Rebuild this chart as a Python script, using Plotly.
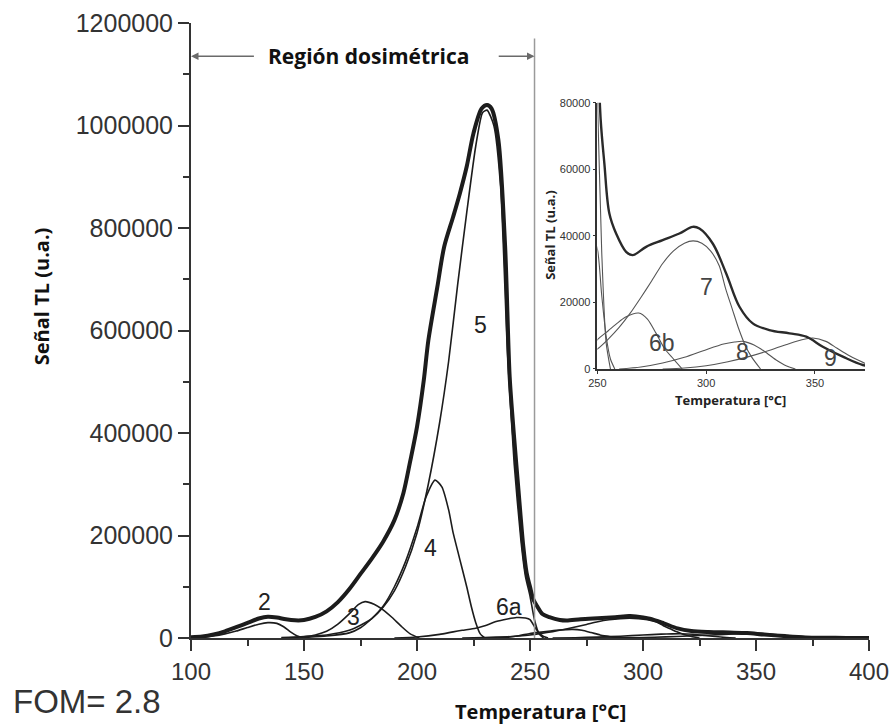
import plotly.graph_objects as go

# Glow curve (measured TL signal)
temp_glow = [100, 105, 110, 115, 120, 125, 130, 134, 138, 142,
             146, 150, 155, 160, 165, 170, 175, 180, 185, 190,
             194, 197, 200, 203, 205, 209, 212, 216, 219, 222,
             225, 228.6, 231, 233, 236, 239, 241, 243, 245, 247,
             248.5, 250, 251.5, 253.2, 255.5, 258.6, 263.2, 266.2, 272.4, 280,
             287.7, 293.8, 296.9, 303, 309.2, 315.3, 321.4, 329, 338.3, 346,
             353.6, 362.8, 372, 380, 390, 400]
signal_glow = [1500, 3000, 7000, 13000, 21000, 29500, 38000, 41600, 40000, 36500,
               34500, 35000, 41000, 52000, 70000, 95000, 125000, 155000, 188000, 230000,
               283000, 345000, 412000, 503000, 580000, 685000, 763000, 822000, 868000, 920000,
               985000, 1033000, 1040000, 1033000, 972000, 763000, 510000, 390000, 283000, 180000,
               127000, 100000, 75000, 61800, 46700, 40700, 35200, 34200, 36700, 38700,
               40700, 42700, 42200, 37700, 28700, 18700, 13700, 11700, 10700, 9700,
               6700, 3700, 1200, 500, 200, 0]

# Deconvolved components
temp_p2 = [100, 105, 110, 115, 120, 125, 130, 134, 138, 141, 144, 147, 150]
signal_p2 = [500, 1500, 4000, 8000, 13500, 20500, 27000, 30000, 28500, 22000, 12000, 4000, 0]

temp_p3 = [140, 145, 150, 155, 160, 165, 170, 174, 177, 181, 185, 189, 193, 197, 201]
signal_p3 = [0, 1000, 2500, 6000, 13000, 27000, 47000, 65000, 71000, 66000, 55000, 40000, 23000, 8000, 0]

temp_p4 = [150, 160, 170, 175, 180, 185, 190, 195, 200, 204, 208, 211, 214, 216, 218, 220, 222, 224, 226, 228, 230]
signal_p4 = [1000, 4000, 10000, 20000, 38000, 62000, 100000, 150000, 215000, 275000, 308000, 295000,
             250000, 205000, 170000, 135000, 100000, 62000, 30000, 8000, 0]

temp_p5 = [140, 150, 160, 170, 175, 180, 185, 190, 195, 200, 205, 210, 214, 218, 222, 226, 229, 231,
           234, 237, 240, 243, 246, 248, 250, 252, 254, 256]
signal_p5 = [1000, 3000, 6000, 15000, 25000, 38000, 60000, 92000, 140000, 205000, 300000, 420000, 540000,
             690000, 830000, 960000, 1025000, 1030000, 1000000, 880000, 560000, 340000, 190000, 120000,
             82000, 35000, 8000, 0]

temp_p6a = [190, 200, 210, 216, 220, 226, 230, 235, 240, 244, 248, 250, 252, 254, 256, 258]
signal_p6a = [0, 2000, 7000, 12000, 15000, 19000, 24000, 32000, 37000, 40000, 39000, 36000, 22000, 10000, 3000, 0]

temp_p6b = [235, 240, 245, 250, 255, 259, 263, 269, 273, 277, 281, 285, 289]
signal_p6b = [0, 1500, 4500, 8800, 11500, 13700, 15600, 16800, 15000, 10700, 6000, 3000, 0]

temp_p7 = [220, 230, 240, 245, 250, 255, 260, 265, 270, 275, 280, 285, 290, 294, 298, 302, 306, 309,
           312, 315, 318, 321, 325]
signal_p7 = [0, 1000, 2500, 4000, 6000, 9000, 12500, 16700, 21500, 26500, 31700, 35500, 37800, 38500,
             37800, 35500, 31000, 24000, 18000, 12000, 7000, 3500, 0]

temp_p8 = [260, 270, 280, 290, 300, 308, 313, 317, 322, 327, 332, 337, 341]
signal_p8 = [0, 600, 1800, 3500, 5800, 7500, 8100, 8300, 7200, 5200, 2800, 900, 0]

temp_p9 = [280, 290, 300, 310, 320, 330, 338, 344, 349, 355, 360, 365, 370, 375, 380, 388]
signal_p9 = [0, 300, 1000, 2200, 3800, 5800, 7600, 8800, 9300, 8300, 6300, 4300, 2600, 1200, 400, 0]

# Peak labels: (text, temperature, signal)
main_labels = [("2", 132.3, 70000), ("3", 171.7, 41000), ("4", 205.8, 175000),
               ("5", 228.3, 610000), ("6a", 240.7, 60500)]
inset_labels = [("6b", 279.6, 7700), ("7", 300, 24700), ("8", 316.9, 5200), ("9", 357, 3200)]

main_ticks_x = [100, 150, 200, 250, 300, 350, 400]
main_ticks_y = [0, 200000, 400000, 600000, 800000, 1000000, 1200000]
inset_ticks_x = [250, 300, 350]
inset_ticks_y = [0, 20000, 40000, 60000, 80000]

dosimetric_limit = 252
region_arrow_level = 1135000

components = [(temp_p2, signal_p2), (temp_p3, signal_p3), (temp_p4, signal_p4),
              (temp_p5, signal_p5), (temp_p6a, signal_p6a), (temp_p6b, signal_p6b),
              (temp_p7, signal_p7), (temp_p8, signal_p8), (temp_p9, signal_p9)]
inset_components = components[3:]

ARIAL = "Liberation Sans, Arial, sans-serif"
BOLD = "Open Sans, sans-serif"
INK = "#1c1c1c"

fig = go.Figure()

# main panel
for t, s in components:
    fig.add_trace(go.Scatter(x=t, y=s, mode="lines", xaxis="x", yaxis="y",
                             line=dict(color=INK, width=1.6, shape="spline", smoothing=0.6),
                             hoverinfo="skip", showlegend=False))
fig.add_trace(go.Scatter(x=temp_glow, y=signal_glow, mode="lines", xaxis="x", yaxis="y",
                         line=dict(color=INK, width=4, shape="spline", smoothing=0.8),
                         hoverinfo="skip", showlegend=False))

# dosimetric region boundary
fig.add_trace(go.Scatter(x=[dosimetric_limit, dosimetric_limit], y=[0, 1170000], mode="lines",
                         xaxis="x", yaxis="y", line=dict(color="#9a9a9a", width=1.5),
                         hoverinfo="skip", showlegend=False))

# inset panel
for t, s in inset_components:
    fig.add_trace(go.Scatter(x=t, y=s, mode="lines", xaxis="x2", yaxis="y2",
                             line=dict(color="#555555", width=1.1, shape="spline", smoothing=0.7),
                             hoverinfo="skip", showlegend=False))
fig.add_trace(go.Scatter(x=temp_glow, y=signal_glow, mode="lines", xaxis="x2", yaxis="y2",
                         line=dict(color="#2a2a2a", width=2.4, shape="spline", smoothing=1.0),
                         hoverinfo="skip", showlegend=False))

annotations = []
for txt, t, s in main_labels:
    annotations.append(dict(x=t, y=s, xref="x", yref="y", text=txt, showarrow=False,
                            font=dict(family=ARIAL, size=23, color="#222")))
for txt, t, s in inset_labels:
    annotations.append(dict(x=t, y=s, xref="x2", yref="y2", text=txt, showarrow=False,
                            font=dict(family=ARIAL, size=23, color="#444")))

# region arrows
annotations.append(dict(x=100, y=region_arrow_level, ax=128.5, ay=region_arrow_level,
                        xref="x", yref="y", axref="x", ayref="y", text="", showarrow=True,
                        arrowhead=2, arrowsize=1, arrowwidth=1.5, arrowcolor="#6a6a6a"))
annotations.append(dict(x=dosimetric_limit, y=region_arrow_level, ax=235.5, ay=region_arrow_level,
                        xref="x", yref="y", axref="x", ayref="y", text="", showarrow=True,
                        arrowhead=2, arrowsize=1, arrowwidth=1.5, arrowcolor="#6a6a6a"))
annotations.append(dict(x=178.8, y=region_arrow_level, xref="x", yref="y",
                        text="<b>Región dosimétrica</b>", showarrow=False,
                        font=dict(family=BOLD, size=21, color="#111")))

# axis titles and FOM
annotations.append(dict(x=0.515, y=-0.119, xref="paper", yref="paper", text="<b>Temperatura [°C]</b>",
                        showarrow=False, xanchor="center", yanchor="middle",
                        font=dict(family=BOLD, size=20, color="#111")))
annotations.append(dict(x=-0.221, y=0.556, xref="paper", yref="paper", text="<b>Señal TL (u.a.)</b>",
                        showarrow=False, textangle=-90, xanchor="center", yanchor="middle",
                        font=dict(family=BOLD, size=20, color="#111")))
annotations.append(dict(x=-0.265, y=-0.104, xref="paper", yref="paper", text="FOM= 2.8",
                        showarrow=False, xanchor="left", yanchor="middle",
                        font=dict(family=ARIAL, size=33, color="#333")))
annotations.append(dict(x=0.7955, y=0.387, xref="paper", yref="paper", text="<b>Temperatura [°C]</b>",
                        showarrow=False, xanchor="center", yanchor="middle",
                        font=dict(family=BOLD, size=13, color="#222")))
annotations.append(dict(x=0.5295, y=0.654, xref="paper", yref="paper", text="<b>Señal TL (u.a.)</b>",
                        showarrow=False, textangle=-90, xanchor="center", yanchor="middle",
                        font=dict(family=BOLD, size=13, color="#222")))

axis_common = dict(showgrid=False, zeroline=False, showline=True, linecolor="#333",
                   ticks="outside", tickcolor="#333", automargin=False)

fig.update_layout(
    width=892, height=728,
    margin=dict(l=191, r=23, t=23, b=90, autoexpand=False),
    paper_bgcolor="white", plot_bgcolor="white",
    showlegend=False,
    xaxis=dict(**axis_common, range=[100, 400], tickvals=main_ticks_x, linewidth=2, tickwidth=1.5,
               ticklen=11, minor=dict(ticks="outside", dtick=25, tick0=100, ticklen=6,
                                      tickcolor="#333", tickwidth=1.5),
               tickfont=dict(family=ARIAL, size=24, color="#333"), domain=[0, 1], anchor="y"),
    yaxis=dict(**axis_common, range=[0, 1200000], tickvals=main_ticks_y, linewidth=2, tickwidth=1.5,
               ticklen=11, minor=dict(ticks="outside", dtick=100000, tick0=0, ticklen=6,
                                      tickcolor="#333", tickwidth=1.5),
               tickformat="d", tickfont=dict(family=ARIAL, size=25, color="#333"),
               domain=[0, 1], anchor="x"),
    xaxis2=dict(**axis_common, range=[250, 373], tickvals=inset_ticks_x, linewidth=1.5, tickwidth=1,
                ticklen=3, tickfont=dict(family=ARIAL, size=11, color="#333"),
                tickprefix="<b>", ticksuffix="</b>",
                domain=[0.5994, 0.9941], anchor="y2"),
    yaxis2=dict(**axis_common, range=[0, 80000], tickvals=inset_ticks_y, linewidth=1.5, tickwidth=1,
                ticklen=3, tickformat="d", tickfont=dict(family=ARIAL, size=11, color="#333"),
                tickprefix="<b>", ticksuffix="</b>",
                domain=[0.4374, 0.8704], anchor="x2"),
    annotations=annotations,
)

fig.write_html("out.html")
